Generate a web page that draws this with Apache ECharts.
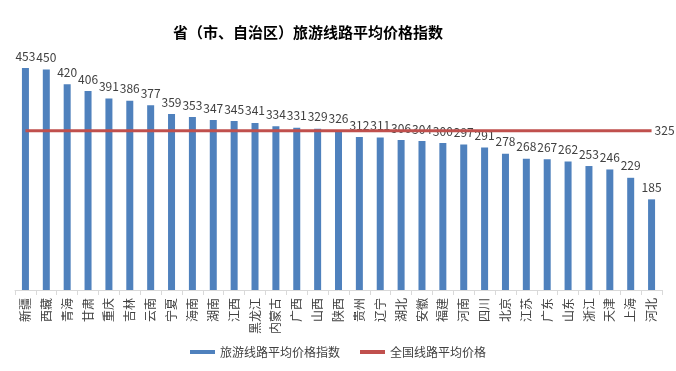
<!DOCTYPE html>
<html><head><meta charset="utf-8">
<script src="https://cdn.jsdelivr.net/npm/echarts@6/dist/echarts.min.js"></script>
<style>html,body{margin:0;padding:0;background:#fff}#c{width:676px;height:371px}</style>
</head><body><div id="c"></div>
<script>
var categories = ['新疆','西藏','青海','甘肃','重庆','吉林','云南','宁夏','海南','湖南','江西','黑龙江','内蒙古','广西','山西','陕西','贵州','辽宁','湖北','安徽','福建','河南','四川','北京','江苏','广东','山东','浙江','天津','上海','河北'];
var indexValues = [453,450,420,406,391,386,377,359,353,347,345,341,334,331,329,326,312,311,306,304,300,297,291,278,268,267,262,253,246,229,185];
var nationalAvg = 325;
var avgValues = categories.map(function(){return nationalAvg;});
var font = '"Microsoft YaHei","Noto Sans CJK SC",sans-serif';
var chart = echarts.init(document.getElementById('c'));
chart.setOption({
  animation:false,
  title:{text:'省（市、自治区）旅游线路平均价格指数',left:168,top:20,textStyle:{fontSize:15,fontWeight:'bold',color:'#000',fontFamily:font}},
  grid:{left:15,right:14,top:45,bottom:81,containLabel:false},
  legend:{bottom:8,left:'center',itemWidth:25,itemHeight:4,itemGap:20,textStyle:{fontSize:12,color:'#404040',fontFamily:font},
    data:[{name:'旅游线路平均价格指数',icon:'rect'},{name:'全国线路平均价格',icon:'rect'}]},
  xAxis:{type:'category',data:categories,axisLine:{lineStyle:{color:'#D9D9D9'}},axisTick:{show:true,lineStyle:{color:'#D9D9D9'},length:5},
    axisLabel:{rotate:90,interval:0,fontSize:12,color:'#404040',fontFamily:font,margin:8}},
  yAxis:{type:'value',min:0,max:500,show:false,splitLine:{show:false}},
  series:[
    {name:'旅游线路平均价格指数',type:'bar',data:indexValues,barWidth:7,itemStyle:{color:'#4F81BD'},
     label:{show:true,position:'top',distance:6,fontSize:12,color:'#404040',fontFamily:font}},
    {name:'全国线路平均价格',type:'line',data:avgValues,symbol:'none',lineStyle:{color:'#C0504D',width:3},itemStyle:{color:'#C0504D'},
     endLabel:{show:true,formatter:function(p){return p.value;},fontSize:12,color:'#404040',fontFamily:font,distance:3}}
  ]
});
</script></body></html>
